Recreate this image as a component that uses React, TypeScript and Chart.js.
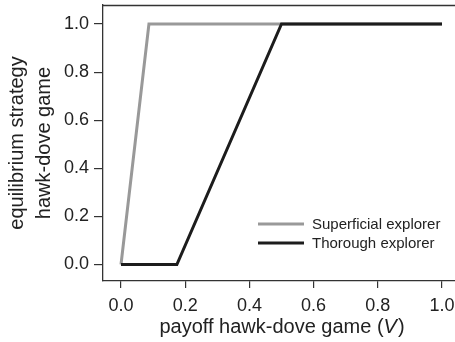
import React, { useEffect, useRef } from "react";
import { Chart, registerables } from "chart.js";

Chart.register(...registerables);

// Payoff V on the x axis, equilibrium hawk probability on the y axis
const superficialV = [0, 0.087, 1.0];
const superficialP = [0, 1, 1];
const thoroughV = [0, 0.174, 0.5, 1.0];
const thoroughP = [0, 0, 1, 1];

const seriesLabels = ["Superficial explorer", "Thorough explorer"];
const tickValues = [0, 0.2, 0.4, 0.6, 0.8, 1.0];
const xTitleParts = [
  { text: "payoff hawk-dove game (", italic: false },
  { text: "V", italic: true },
  { text: ")", italic: false },
];

const FONT = "'Liberation Sans', Arial, Helvetica, sans-serif";
const INK = "#222222";
const AXIS = "#333333";

const toPoints = (xs: number[], ys: number[]) => xs.map((x, i) => ({ x, y: ys[i] }));

// Top edge of the plot frame (the left and bottom edges come from the axis borders)
const framePlugin = {
  id: "frameTop",
  afterDraw(chart: any) {
    const { ctx, chartArea } = chart;
    ctx.save();
    ctx.strokeStyle = AXIS;
    ctx.lineWidth = 1.3;
    ctx.beginPath();
    ctx.moveTo(chartArea.left, chartArea.top + 0.5);
    ctx.lineTo(chartArea.right, chartArea.top + 0.5);
    ctx.stroke();
    ctx.restore();
  },
};

// x-axis title with an italic variable name, centred on the 0..1 range
const xTitlePlugin = {
  id: "xTitle",
  afterDraw(chart: any) {
    const { ctx } = chart;
    const sx = chart.scales.x;
    const cx = (sx.getPixelForValue(0) + sx.getPixelForValue(1)) / 2;
    const y = 333;
    ctx.save();
    ctx.fillStyle = INK;
    ctx.textBaseline = "alphabetic";
    ctx.textAlign = "left";
    const fonts = xTitleParts.map((p) => `${p.italic ? "italic " : ""}20px ${FONT}`);
    const widths = xTitleParts.map((p, i) => {
      ctx.font = fonts[i];
      return ctx.measureText(p.text).width;
    });
    let x = cx - widths.reduce((a, b) => a + b, 0) / 2;
    xTitleParts.forEach((p, i) => {
      ctx.font = fonts[i];
      ctx.fillText(p.text, x, y);
      x += widths[i] + (p.italic ? 1 : 0);
    });
    ctx.restore();
  },
};

// Legend inside the lower right of the plot
const legendPlugin = {
  id: "insetLegend",
  afterDatasetsDraw(chart: any) {
    const { ctx } = chart;
    const x0 = 258;
    const x1 = 304;
    const tx = 312;
    const y0 = 224;
    const gap = 19;
    ctx.save();
    ctx.font = `15px ${FONT}`;
    ctx.textBaseline = "middle";
    ctx.textAlign = "left";
    chart.data.datasets.forEach((ds: any, i: number) => {
      const y = y0 + i * gap;
      ctx.strokeStyle = ds.borderColor;
      ctx.lineWidth = 3;
      ctx.beginPath();
      ctx.moveTo(x0, y);
      ctx.lineTo(x1, y);
      ctx.stroke();
      ctx.fillStyle = INK;
      ctx.fillText(ds.label, tx, y + 1);
    });
    ctx.restore();
  },
};

export default function App() {
  const canvasRef = useRef<HTMLCanvasElement | null>(null);

  useEffect(() => {
    if (!canvasRef.current) return;
    const chart = new Chart(canvasRef.current, {
      type: "scatter",
      data: {
        datasets: [
          {
            label: seriesLabels[0],
            data: toPoints(superficialV, superficialP),
            showLine: true,
            borderColor: "#999999",
            backgroundColor: "#999999",
            borderWidth: 3,
            pointRadius: 0,
            order: 1,
          },
          {
            label: seriesLabels[1],
            data: toPoints(thoroughV, thoroughP),
            showLine: true,
            borderColor: "#1c1c1c",
            backgroundColor: "#1c1c1c",
            borderWidth: 3,
            pointRadius: 0,
            order: 0,
          },
        ],
      },
      plugins: [framePlugin, legendPlugin, xTitlePlugin],
      options: {
        animation: false,
        responsive: false,
        devicePixelRatio: 1,
        layout: { padding: { top: 5, right: 0, left: 0, bottom: 0 } },
        plugins: { legend: { display: false }, tooltip: { enabled: false } },
        scales: {
          x: {
            type: "linear",
            min: -0.0561,
            max: 1.0405,
            afterBuildTicks: (scale: any) => {
              scale.ticks = tickValues.map((v) => ({ value: v }));
            },
            afterFit: (scale: any) => {
              scale.height = 61;
              scale.paddingLeft = 0;
              scale.paddingRight = 0;
            },
            border: { display: true, color: AXIS, width: 1.3 },
            grid: {
              drawOnChartArea: false,
              drawTicks: true,
              tickLength: 7,
              color: AXIS,
              lineWidth: 1.2,
            },
            ticks: {
              padding: 7,
              color: INK,
              font: { family: FONT, size: 18 },
              maxRotation: 0,
              callback: (v: any) => Number(v).toFixed(1),
            },
            title: { display: false },
          },
          y: {
            type: "linear",
            min: -0.0686,
            max: 1.079,
            afterBuildTicks: (scale: any) => {
              scale.ticks = tickValues.map((v) => ({ value: v }));
            },
            afterFit: (scale: any) => {
              scale.width = 103;
              scale.paddingTop = 0;
              scale.paddingBottom = 0;
            },
            border: { display: true, color: AXIS, width: 1.3 },
            grid: {
              drawOnChartArea: false,
              drawTicks: true,
              tickLength: 9,
              color: AXIS,
              lineWidth: 1.2,
            },
            ticks: {
              padding: 5,
              color: INK,
              font: { family: FONT, size: 18 },
              callback: (v: any) => Number(v).toFixed(1),
            },
            title: {
              display: true,
              text: ["equilibrium strategy", "hawk-dove game"],
              color: INK,
              font: { family: FONT, size: 20, lineHeight: 1.35 },
              padding: { top: 4, bottom: 0 },
            },
          },
        },
      },
    });
    return () => chart.destroy();
  }, []);

  return (
    <div style={{ position: "fixed", left: 0, top: 0, width: 455, height: 342, background: "#ffffff" }}>
      <canvas ref={canvasRef} width={455} height={342} style={{ display: "block" }} />
    </div>
  );
}
